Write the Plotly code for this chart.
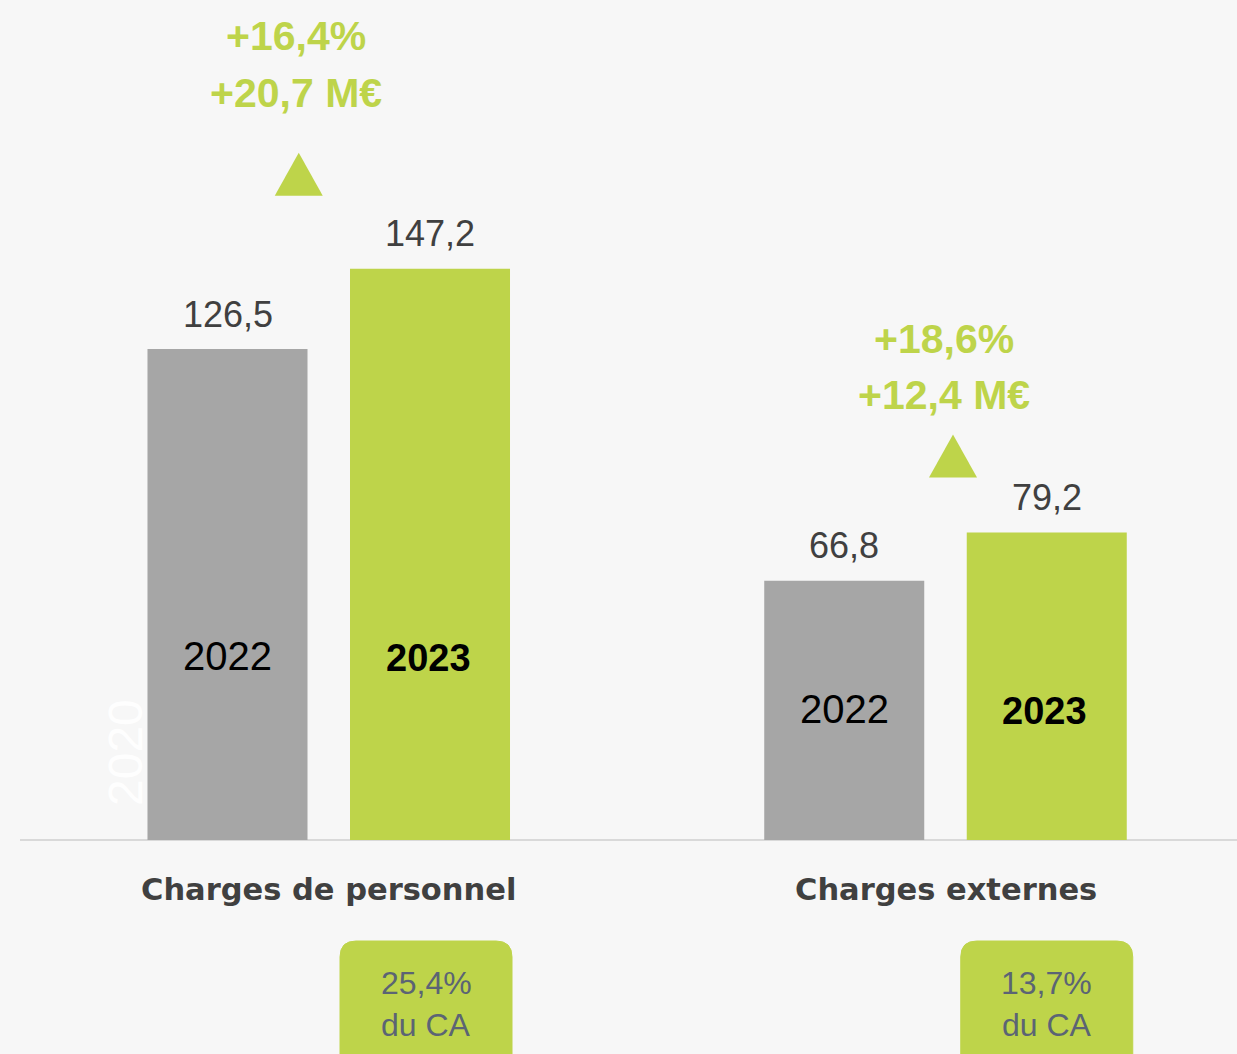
import plotly.graph_objects as go

# ---------------- data ----------------
categories = ["Charges de personnel", "Charges externes"]
years = ["2022", "2023"]
values_2022 = [126.5, 66.8]
values_2023 = [147.2, 79.2]
share_of_revenue = ["25,4%", "13,7%"]
ghost_label = "2020"

# ---------------- style ----------------
BG = "#f7f7f7"
GREY = "#a6a6a6"
GREEN = "#bed44a"
DARK = "#404040"
SLATE = "#5b6474"
NARROW = "Liberation Sans Narrow, Arial Narrow, Liberation Sans, sans-serif"
REG = "Liberation Sans, Arial, sans-serif"
HEAVY = "DejaVu Sans, Arial Black, sans-serif"

W, H = 1237, 1054
PXU = 616.75      # px per category step
PYU = 3.881       # px per value unit
X0 = -328.75 / PXU
X1 = X0 + W / PXU
Y1 = 840 / PYU
Y0 = Y1 - H / PYU

BAR_OFF = 101.25 / PXU


def fmt(v, nd=1):
    return f"{v:.{nd}f}".replace(".", ",")


fig = go.Figure()
fig.add_trace(go.Bar(x=[0, 1], y=values_2022, name=years[0], marker=dict(color=GREY, line=dict(width=0)),
                     hoverinfo="skip"))
fig.add_trace(go.Bar(x=[0, 1], y=values_2023, name=years[1], marker=dict(color=GREEN, line=dict(width=0)),
                     hoverinfo="skip"))

ann = []
shapes = []

# baseline
shapes.append(dict(type="line", xref="x", yref="y", x0=X0 + 20 / PXU, x1=X1, y0=0, y1=0,
                   line=dict(color="#d9d9d9", width=2), layer="below"))

# per group details (pixel offsets)
year_label_px = [184, 131]       # in-bar label height above baseline
tri_dx_px = [-30, 7.5]           # triangle offset from group centre
tri_gap_px = [73, 55]            # gap between green bar top and triangle base
chg_dx_px = [-33, -2]            # change text offset from group centre
chg_shift_px = [(117, 60), (96, 40)]   # change text lines above triangle apex
box_dx_px = [-4, 0]              # share box offset from green bar centre

for i, cat in enumerate(categories):
    v0, v1 = values_2022[i], values_2023[i]
    xg, xn = i - BAR_OFF, i + BAR_OFF
    # value labels
    for xv, vv in ((xg, v0), (xn, v1)):
        ann.append(dict(x=xv, y=vv, xref="x", yref="y", text=fmt(vv), showarrow=False,
                        yanchor="middle", yshift=35,
                        font=dict(family=NARROW, size=36, color=DARK)))
    # year labels inside bars
    yl = year_label_px[i] / PYU
    ann.append(dict(x=xg, y=yl, xref="x", yref="y", text=years[0], showarrow=False,
                    yanchor="middle", font=dict(family=REG, size=40, color="#000000")))
    ann.append(dict(x=xn, y=yl, xref="x", yref="y", text=f"<b>{years[1]}</b>", showarrow=False,
                    yanchor="middle", yshift=-2, xshift=-2, font=dict(family=REG, size=38, color="#000000")))
    # category label
    ann.append(dict(x=i, y=-49 / PYU, xref="x", yref="y", text=f"<b>{cat}</b>", showarrow=False,
                    yanchor="middle", font=dict(family=HEAVY, size=30.5, color=DARK)))
    # triangle
    tb = v1 + tri_gap_px[i] / PYU
    tc = i + tri_dx_px[i] / PXU
    hw = 24 / PXU
    th = 43 / PYU
    shapes.append(dict(type="path", xref="x", yref="y",
                       path=f"M {tc - hw},{tb} L {tc + hw},{tb} L {tc},{tb + th} Z",
                       fillcolor=GREEN, line=dict(width=0)))
    # change text
    pct = (v1 - v0) / v0 * 100
    diff = v1 - v0
    top = tb + th
    cx = i + chg_dx_px[i] / PXU
    s1, s2 = chg_shift_px[i]
    ann.append(dict(x=cx, y=top, xref="x", yref="y", text=f"<b>+{fmt(pct)}%</b>", showarrow=False,
                    yanchor="middle", yshift=s1, font=dict(family=NARROW, size=41, color=GREEN)))
    ann.append(dict(x=cx, y=top, xref="x", yref="y", text=f"<b>+{fmt(diff)} M€</b>", showarrow=False,
                    yanchor="middle", yshift=s2, font=dict(family=NARROW, size=41, color=GREEN)))
    # rounded box with share of revenue
    bc = xn + box_dx_px[i] / PXU
    bl, br = bc - 86 / PXU, bc + 86 / PXU
    bt = -101 / PYU
    bb = Y0 - 20 / PYU
    rx, ry = 16 / PXU, 16 / PYU
    path = (f"M {bl},{bb + ry} L {bl},{bt - ry} Q {bl},{bt} {bl + rx},{bt} "
            f"L {br - rx},{bt} Q {br},{bt} {br},{bt - ry} L {br},{bb + ry} "
            f"Q {br},{bb} {br - rx},{bb} L {bl + rx},{bb} Q {bl},{bb} {bl},{bb + ry} Z")
    shapes.append(dict(type="path", xref="x", yref="y", path=path, fillcolor=GREEN,
                       line=dict(color=GREEN, width=1), layer="below"))
    ann.append(dict(x=bc, y=-143 / PYU, xref="x", yref="y", text=share_of_revenue[i], showarrow=False,
                    yanchor="middle", font=dict(family=NARROW, size=32, color=SLATE)))
    ann.append(dict(x=bc, y=-185 / PYU, xref="x", yref="y", text="du CA", showarrow=False,
                    yanchor="middle", font=dict(family=NARROW, size=32, color=SLATE)))

# faint ghost label
ann.append(dict(x=-BAR_OFF - 102.5 / PXU, y=87 / PYU, xref="x", yref="y", text=ghost_label,
                showarrow=False, textangle=-90, xanchor="center", yanchor="middle",
                font=dict(family=REG, size=48, color="rgba(255,255,255,0.95)")))

fig.update_layout(
    width=W, height=H,
    margin=dict(l=0, r=0, t=0, b=0),
    paper_bgcolor=BG, plot_bgcolor=BG,
    barmode="group", bargap=0.3433, bargroupgap=0.2099,
    showlegend=False,
    xaxis=dict(range=[X0, X1], visible=False, fixedrange=True),
    yaxis=dict(range=[Y0, Y1], visible=False, fixedrange=True),
    annotations=ann, shapes=shapes,
)

fig.write_html("out.html", config={"displayModeBar": False},
               post_script="document.body.style.margin='0';document.body.style.overflow='hidden';"
                           "document.body.style.background='" + BG + "';")
